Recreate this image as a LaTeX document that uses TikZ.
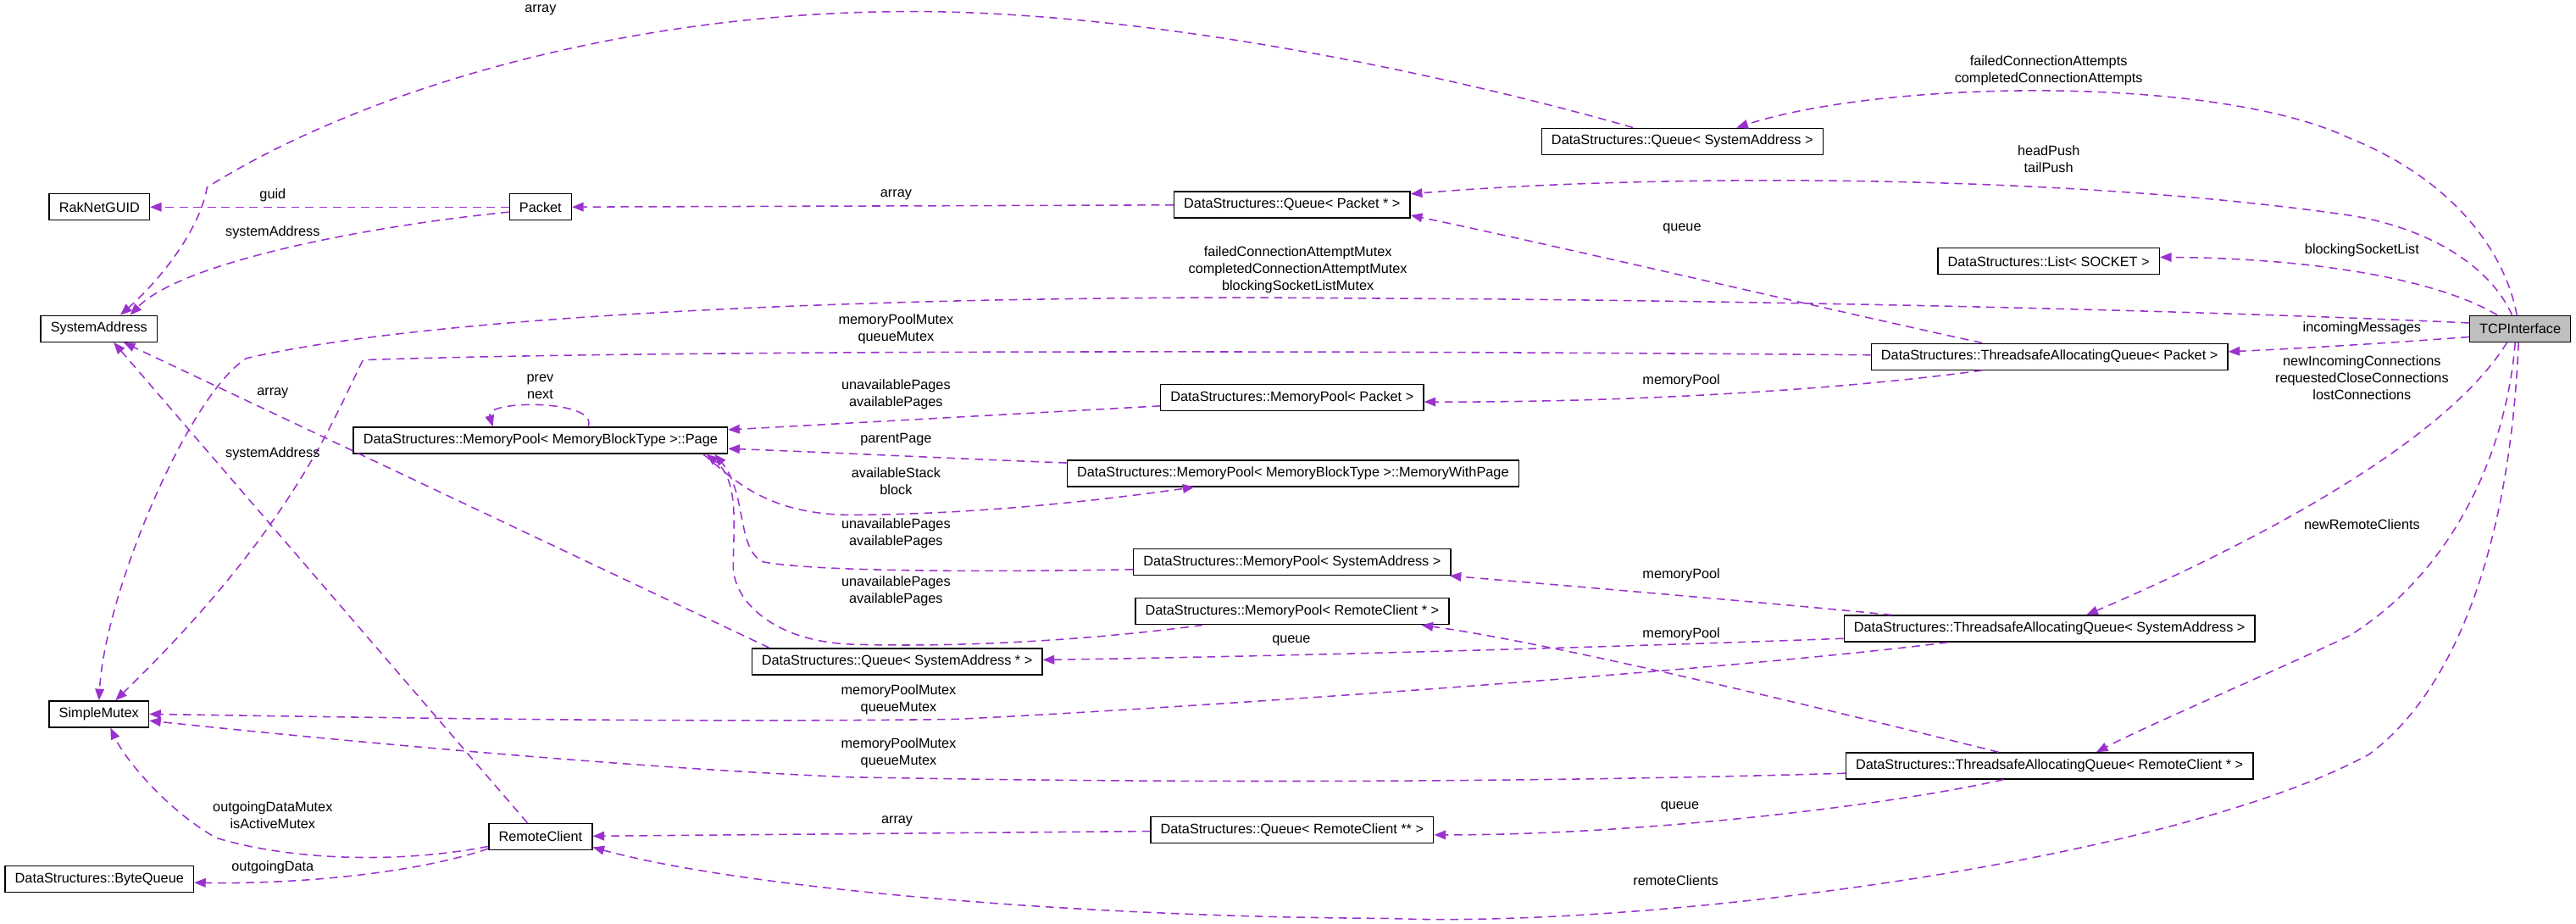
\documentclass[tikz,border=0pt]{standalone}
\usepackage{fontspec}
\setmainfont{Liberation Sans}
\usetikzlibrary{arrows.meta}
\definecolor{edgepurple}{HTML}{9A32CD}
\definecolor{nodegray}{HTML}{BFBFBF}

\begin{document}
\begin{tikzpicture}[
    x=1pt, y=-1pt,
    cls/.style={rectangle, draw, line width=0.7pt, fill=white, inner xsep=6pt, inner ysep=0pt, minimum height=16pt, font=\fontsize{8.4}{10.3}\selectfont},
    rel/.style={edgepurple, line width=0.8pt, dash pattern=on 5pt off 3.5pt, -{Triangle[length=7pt,width=5.5pt]}},
    lbl/.style={align=center, inner sep=0pt, text=black, font=\fontsize{8.4}{10.3}\selectfont}
]
    \useasboundingbox (0,0) rectangle (1568,562);

    % Classes
    \node[cls, fill=nodegray] (tcp) at (1534,200) {TCPInterface};
    \node[cls] (guid) at (60.5,126) {RakNetGUID};
    \node[cls] (packet) at (329,126) {Packet};
    \node[cls] (sysaddr) at (60.25,200) {SystemAddress};
    \node[cls] (qpacket) at (786.5,124.5) {DataStructures::Queue< Packet * >};
    \node[cls] (qsa) at (1024,86) {DataStructures::Queue< SystemAddress >};
    \node[cls] (socklist) at (1247,159) {DataStructures::List< SOCKET >};
    \node[cls] (taqpacket) at (1247.5,217) {DataStructures::ThreadsafeAllocatingQueue< Packet >};
    \node[cls] (page) at (329,268) {DataStructures::MemoryPool< MemoryBlockType >::Page};
    \node[cls] (mppacket) at (786.5,242) {DataStructures::MemoryPool< Packet >};
    \node[cls] (mwpage) at (787,288) {DataStructures::MemoryPool< MemoryBlockType >::MemoryWithPage};
    \node[cls] (mpsa) at (786.5,342) {DataStructures::MemoryPool< SystemAddress >};
    \node[cls] (mprc) at (786.5,372) {DataStructures::MemoryPool< RemoteClient * >};
    \node[cls] (qsaptr) at (546,402.5) {DataStructures::Queue< SystemAddress * >};
    \node[cls] (taqsa) at (1247.5,382.5) {DataStructures::ThreadsafeAllocatingQueue< SystemAddress >};
    \node[cls] (mutex) at (60.25,434.5) {SimpleMutex};
    \node[cls] (taqrc) at (1247.5,466) {DataStructures::ThreadsafeAllocatingQueue< RemoteClient * >};
    \node[cls] (qrc) at (786.5,505) {DataStructures::Queue< RemoteClient ** >};
    \node[cls] (rclient) at (329,509) {RemoteClient};
    \node[cls] (bytequeue) at (60.5,535) {DataStructures::ByteQueue};

    % Members of TCPInterface
    \draw[rel] ([xshift=-2pt]tcp.north) .. controls (1524,150) and (1490,108) .. (1430,84)
        .. controls (1350,46) and (1150,48) .. ([xshift=33pt]qsa.north)
        node[lbl] at (1247,43) {failedConnectionAttempts\\completedConnectionAttempts};
    \draw[rel] ([xshift=-5pt]tcp.north) .. controls (1515,160) and (1475,138) .. (1430,131)
        .. controls (1250,105) and (1000,106) .. ([yshift=6.5pt]qpacket.east)
        node[lbl] at (1247,96.8) {headPush\\tailPush};
    \draw[rel] ([xshift=-14pt]tcp.north) .. controls (1480,168) and (1400,157) .. ([yshift=2.5pt]socklist.east)
        node[lbl] at (1437.7,152.4) {blockingSocketList};
    \draw[rel] ([yshift=3.5pt]tcp.west) .. controls (1300,187) and (1000,182) .. (825,181.5)
        .. controls (600,179) and (280,188) .. (150,218)
        .. controls (115,240) and (64,360) .. (mutex.north)
        node[lbl] at (790,164.3) {failedConnectionAttemptMutex\\completedConnectionAttemptMutex\\blockingSocketListMutex};
    \draw[rel] ([yshift=-5pt]tcp.west) .. controls (1450,209) and (1400,212) .. ([yshift=3pt]taqpacket.east)
        node[lbl] at (1437.7,199.5) {incomingMessages};
    \draw[rel] ([xshift=-8pt]tcp.south) .. controls (1485,275) and (1350,340) .. ([xshift=22.5pt]taqsa.north)
        node[lbl] at (1437.7,229.8) {newIncomingConnections\\requestedCloseConnections\\lostConnections};
    \draw[rel] ([xshift=-3pt]tcp.south) .. controls (1525,280) and (1490,350) .. (1429.7,387)
        .. controls (1370,415) and (1310,440) .. ([xshift=28.5pt]taqrc.north)
        node[lbl] at (1437.7,319) {newRemoteClients};
    \draw[rel] ([xshift=-1pt]tcp.south) .. controls (1528,330) and (1495,420) .. (1442,459)
        .. controls (1320,525) and (1000,565) .. (845,558.8)
        .. controls (650,558) and (450,540) .. ([yshift=-6.5pt]rclient.east)
        node[lbl] at (1020,535.6) {remoteClients};

    % Queues and pools
    \draw[rel] ([xshift=-30pt]qsa.north) .. controls (880,45) and (700,7) .. (555,7)
        .. controls (380,7) and (220,55) .. (126,114)
        .. controls (122,138) and (100,168) .. ([xshift=13pt]sysaddr.north)
        node[lbl] at (329,6) {array};
    \draw[rel] ([yshift=1pt]taqpacket.west) .. controls (800,213) and (400,213) .. (221,219)
        .. controls (205,250) and (180,320) .. ([xshift=10pt]mutex.north)
        node[lbl] at (545.4,200.4) {memoryPoolMutex\\queueMutex};
    \draw[rel] ([xshift=-41pt]taqpacket.south) .. controls (1130,236) and (1000,245) .. ([yshift=-2.5pt]mppacket.east)
        node[lbl] at (1023.4,231.8) {memoryPool};
    \draw[rel] ([xshift=-41pt]taqpacket.north) .. controls (1120,190) and (950,150) .. ([yshift=-6.5pt]qpacket.east)
        node[lbl] at (1023.8,139) {queue};
    \draw[rel] (packet) -- (guid) node[lbl] at (166,119) {guid};
    \draw[rel] ([yshift=-3pt]packet.west) .. controls (220,138) and (110,160) .. ([xshift=19pt]sysaddr.north)
        node[lbl] at (166,141.6) {systemAddress};
    \draw[rel] (qpacket) -- (packet) node[lbl] at (545.4,118.7) {array};
    \draw[rel] ([yshift=-5pt]mppacket.west) -- ([yshift=6.5pt]page.east)
        node[lbl] at (545.4,239.8) {unavailablePages\\availablePages};
    \draw[rel] ([yshift=-2pt]mwpage.north west) .. controls (580,279) and (500,275) .. ([yshift=-5pt]page.east)
        node[lbl] at (545.4,267.7) {parentPage};
    \draw[rel] ([xshift=99pt]page.south) .. controls (445,290) and (465,313) .. (517.8,313.3)
        .. controls (600,313) and (680,303) .. ([xshift=-60pt]mwpage.south)
        node[lbl] at (545.4,292.6) {availableStack\\block};
    \draw[rel] ([yshift=-4.5pt]mpsa.west) .. controls (600,348) and (500,348) .. (465,342)
        .. controls (448,335) and (455,300) .. ([xshift=106pt]page.south)
        node[lbl] at (545.4,324.5) {unavailablePages\\availablePages};
    \draw[rel] ([xshift=-54.5pt]mprc.south) .. controls (660,390) and (580,394) .. (517.8,392)
        .. controls (470,390) and (446,365) .. (446.3,344)
        .. controls (446.5,320) and (450,292) .. ([xshift=101pt]page.south)
        node[lbl] at (545.4,359.4) {unavailablePages\\availablePages};
    \draw[rel] ([xshift=29pt]page.north) .. controls (365,243) and (295,243) .. ([xshift=-29pt]page.north)
        node[lbl] at (328.8,235.5) {prev\\next};
    \draw[rel] ([xshift=-96pt]taqsa.north) .. controls (1090,368) and (950,356) .. ([xshift=-1pt]mpsa.south east)
        node[lbl] at (1023.4,349.6) {memoryPool};
    \draw[rel] ([xshift=-31pt]taqrc.north) .. controls (1130,436) and (950,392) .. ([xshift=-17pt]mprc.south east)
        node[lbl] at (1023.4,385.7) {memoryPool};
    \draw[rel] ([yshift=-6pt]taqsa.west) .. controls (1000,393) and (800,399) .. ([yshift=1pt]qsaptr.east)
        node[lbl] at (786,390) {queue};
    \draw[rel] ([xshift=-62pt]taqsa.south) .. controls (1050,408) and (720,431) .. (581.6,437.6)
        .. controls (400,440) and (200,436) .. (mutex.east)
        node[lbl] at (547,425.5) {memoryPoolMutex\\queueMutex};
    \draw[rel] ([yshift=-4.5pt]taqrc.west) .. controls (900,477) and (680,476) .. (515.8,472.8)
        .. controls (380,467) and (200,450) .. ([yshift=-4pt]mutex.east)
        node[lbl] at (547,458.2) {memoryPoolMutex\\queueMutex};
    \draw[rel] ([xshift=11pt]qsaptr.north west) -- ([xshift=15pt]sysaddr.south)
        node[lbl] at (166,239) {array};
    \draw[rel] ([xshift=-28pt]taqrc.south) .. controls (1150,490) and (1000,508) .. ([yshift=-3pt]qrc.east)
        node[lbl] at (1022.5,490.9) {queue};
    \draw[rel] (qrc) -- (rclient) node[lbl] at (546,499.5) {array};

    % Members of RemoteClient
    \draw[rel] ([yshift=-6pt]rclient.west) .. controls (240,526) and (175,523) .. (131.6,509.8)
        .. controls (100,492) and (75,460) .. ([xshift=7pt]mutex.south)
        node[lbl] at (166,496) {outgoingDataMutex\\isActiveMutex};
    \draw[rel] ([yshift=1pt]rclient.south west) .. controls (245,534) and (165,538) .. ([yshift=-2pt]bytequeue.east)
        node[lbl] at (166,528) {outgoingData};
    \draw[rel] ([xshift=-8pt]rclient.north) -- ([xshift=9pt]sysaddr.south)
        node[lbl] at (166,276.3) {systemAddress};

\end{tikzpicture}
\end{document}
